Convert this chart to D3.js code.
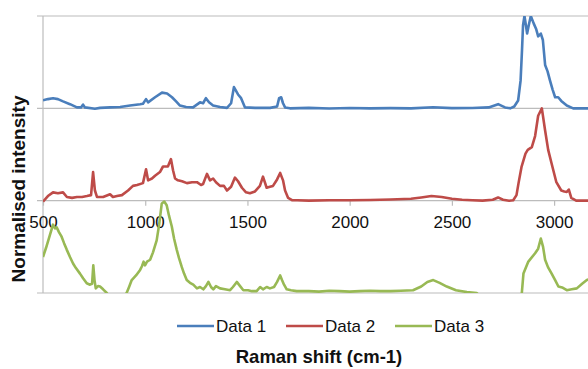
<!DOCTYPE html>
<html>
<head>
<meta charset="utf-8">
<script src="https://cdn.jsdelivr.net/npm/d3@7"></script>
<style>
  body { margin: 0; background: #fff; }
  svg { display: block; font-family: "Liberation Sans", Arial, sans-serif; }
</style>
</head>
<body>
<div id="chart"></div>
<script>
// Raman spectra, [shift cm-1, normalised intensity]
const data1 = [
  [500, 0.087], [524, 0.10], [549, 0.11], [573, 0.10], [598, 0.075], [632, 0.045], [666, 0.01],
  [686, 0.01], [696, 0.04], [705, 0.01], [754, -0.005], [779, 0.005], [828, 0.01], [877, 0.015],
  [926, 0.03], [975, 0.045], [989, 0.05], [1004, 0.10], [1014, 0.065], [1048, 0.12], [1082, 0.17],
  [1107, 0.16], [1131, 0.12], [1151, 0.075], [1170, 0.03], [1200, 0.015], [1234, 0.01], [1268, 0.065],
  [1283, 0.055], [1297, 0.11], [1312, 0.065], [1332, 0.03], [1366, 0.015], [1400, 0.005], [1420, 0.055],
  [1434, 0.23], [1454, 0.15], [1469, 0.11], [1488, 0.01], [1537, 0.005], [1611, 0.005], [1645, 0.02],
  [1655, 0.11], [1665, 0.12], [1674, 0.055], [1684, 0.01], [1708, 0], [1800, 0.005], [1900, -0.002],
  [2000, 0.003], [2100, 0.0], [2200, 0.002], [2300, 0.0], [2408, 0.012], [2500, 0.002], [2600, 0.004],
  [2680, 0.01], [2726, 0.045], [2760, 0.01], [2785, 0.0], [2805, 0.02], [2824, 0.085], [2836, 0.3],
  [2843, 0.63], [2848, 0.9], [2855, 1.0], [2862, 0.9], [2868, 0.81], [2876, 0.9], [2886, 1.0],
  [2900, 0.92], [2912, 0.86], [2922, 0.78], [2935, 0.81], [2945, 0.74], [2956, 0.47], [2968, 0.4],
  [2980, 0.3], [2993, 0.2], [3005, 0.12], [3020, 0.12], [3035, 0.08], [3062, 0.03], [3093, 0.0],
  [3150, 0.0], [3200, 0.0]
];
const data2 = [
  [500, -0.01], [524, 0.05], [549, 0.09], [573, 0.08], [598, 0.09], [617, 0.04], [642, 0.03],
  [666, 0.04], [691, 0.04], [715, 0.05], [735, 0.06], [745, 0.31], [754, 0.11], [764, 0.04],
  [794, 0.04], [828, 0.07], [842, 0.04], [862, 0.05], [886, 0.06], [916, 0.11], [940, 0.16],
  [960, 0.17], [989, 0.19], [1004, 0.34], [1014, 0.22], [1033, 0.24], [1048, 0.27], [1072, 0.31],
  [1087, 0.37], [1111, 0.37], [1126, 0.45], [1136, 0.33], [1146, 0.24], [1160, 0.22], [1180, 0.21],
  [1204, 0.19], [1229, 0.20], [1253, 0.20], [1273, 0.17], [1283, 0.18], [1302, 0.29], [1317, 0.22],
  [1332, 0.24], [1346, 0.20], [1366, 0.16], [1385, 0.16], [1400, 0.11], [1420, 0.15], [1439, 0.25],
  [1454, 0.21], [1473, 0.14], [1493, 0.09], [1512, 0.08], [1537, 0.10], [1561, 0.16], [1576, 0.26],
  [1594, 0.14], [1610, 0.15], [1625, 0.16], [1645, 0.23], [1660, 0.30], [1674, 0.22], [1684, 0.11],
  [1699, 0.03], [1718, 0.005], [1743, 0.005], [1800, 0.0], [1900, 0.005], [2000, 0.004], [2100, 0.008],
  [2200, 0.012], [2300, 0.02], [2350, 0.035], [2400, 0.05], [2450, 0.04], [2500, 0.02], [2550, 0.01],
  [2600, 0.005], [2650, 0.0], [2700, 0.01], [2726, 0.035], [2750, 0.01], [2780, 0.0], [2800, 0.005],
  [2816, 0.06], [2826, 0.19], [2841, 0.37], [2860, 0.51], [2871, 0.55], [2891, 0.58], [2907, 0.7],
  [2922, 0.92], [2940, 1.0], [2956, 0.76], [2971, 0.55], [2988, 0.4], [3011, 0.2], [3035, 0.11],
  [3050, 0.10], [3062, 0.095], [3072, 0.12], [3084, 0.03], [3108, 0.0], [3150, 0.0], [3200, 0.0]
];
const data3 = [
  [500, 0.39], [515, 0.49], [534, 0.63], [549, 0.74], [559, 0.70], [567, 0.71], [578, 0.66],
  [591, 0.61], [603, 0.54], [616, 0.47], [632, 0.39], [647, 0.32], [661, 0.27], [681, 0.21],
  [696, 0.16], [714, 0.105], [730, 0.09], [740, 0.10], [746, 0.30], [752, 0.14], [758, 0.05],
  [769, 0.075], [779, 0.07], [794, 0.04], [812, 0.0], [818, -0.02], [850, -0.05], [900, -0.05],
  [905, -0.01], [909, 0.0], [921, 0.065], [934, 0.14], [955, 0.19], [975, 0.25], [984, 0.29],
  [992, 0.34], [999, 0.30], [1009, 0.34], [1024, 0.36], [1038, 0.44], [1056, 0.57], [1068, 0.74],
  [1081, 0.97], [1093, 0.99], [1105, 0.95], [1116, 0.84], [1130, 0.72], [1141, 0.59], [1154, 0.47],
  [1165, 0.38], [1179, 0.28], [1190, 0.21], [1203, 0.14], [1219, 0.11], [1235, 0.09], [1253, 0.05],
  [1268, 0.065], [1284, 0.04], [1297, 0.075], [1309, 0.12], [1322, 0.065], [1333, 0.04], [1346, 0.075],
  [1366, 0.05], [1390, 0.04], [1415, 0.03], [1429, 0.065], [1448, 0.12], [1464, 0.075], [1480, 0.03],
  [1503, 0.03], [1522, 0.02], [1545, 0.02], [1562, 0.065], [1576, 0.04], [1594, 0.065], [1610, 0.05],
  [1630, 0.065], [1645, 0.12], [1660, 0.19], [1669, 0.14], [1679, 0.09], [1692, 0.04], [1713, 0.03],
  [1741, 0.02], [1800, 0.02], [1850, 0.015], [1900, 0.025], [1950, 0.02], [2000, 0.015], [2050, 0.02],
  [2100, 0.025], [2150, 0.02], [2200, 0.02], [2250, 0.025], [2310, 0.03], [2350, 0.07], [2380, 0.12],
  [2409, 0.14], [2440, 0.11], [2475, 0.07], [2520, 0.03], [2573, 0.01], [2622, 0.0], [2640, -0.05],
  [2830, -0.05], [2842, 0.0], [2850, 0.21], [2874, 0.34], [2907, 0.43], [2922, 0.48], [2935, 0.59],
  [2946, 0.5], [2956, 0.36], [2970, 0.28], [2988, 0.21], [3005, 0.14], [3021, 0.07], [3039, 0.06],
  [3062, 0.03], [3086, 0.04], [3111, 0.05], [3137, 0.1], [3160, 0.14], [3186, 0.16], [3200, 0.17]
];
const seriesNames = ['Data 1', 'Data 2', 'Data 3'];
const seriesOffsets = [1, 0, -1];
const xTicks = [500, 1000, 1500, 2000, 2500, 3000];
const yGrid = [-1, 0, 1, 2];

const W = 588, H = 369;
const colors = ['#4a7ebb', '#be4b48', '#98b954'];

const svg = d3.select('#chart').append('svg')
  .attr('width', W).attr('height', H);

const x = d3.scaleLinear().domain([500, 3200]).range([43, 595]);
const y = d3.scaleLinear().domain([-1, 2]).range([293, 16]);

// gridlines
svg.append('g').selectAll('line')
  .data(yGrid).enter().append('line')
  .attr('x1', 37).attr('x2', W)
  .attr('y1', d => y(d)).attr('y2', d => y(d))
  .attr('stroke', '#bcbcbc').attr('stroke-width', 1.2);

// y axis line
svg.append('line')
  .attr('x1', 43).attr('x2', 43)
  .attr('y1', y(2)).attr('y2', y(-1))
  .attr('stroke', '#bcbcbc').attr('stroke-width', 1.2);

// x axis at 0
const xAxis = svg.append('g')
  .attr('transform', 'translate(0,' + y(0) + ')')
  .call(d3.axisBottom(x).tickValues(xTicks).tickFormat(d3.format('d'))
    .tickSize(5).tickSizeOuter(0).tickPadding(10));
xAxis.select('.domain').remove();
xAxis.selectAll('line').attr('stroke', '#bcbcbc').attr('stroke-width', 1.2);
xAxis.selectAll('text')
  .attr('fill', '#111')
  .attr('font-size', 17)
  .attr('font-family', '"Liberation Sans", Arial, sans-serif');

// series
svg.append('clipPath').attr('id', 'plot')
  .append('rect').attr('x', 43).attr('y', y(2)).attr('width', W - 43).attr('height', y(-1) - y(2));

const line = d3.line().x(d => x(d[0])).y(d => y(d[1]));
const allData = [data1, data2, data3];
svg.append('g').attr('clip-path', 'url(#plot)')
  .selectAll('path')
  .data(allData).enter().append('path')
  .attr('d', (d, i) => line(d.map(p => [p[0], p[1] + seriesOffsets[i]])))
  .attr('fill', 'none')
  .attr('stroke', (d, i) => colors[i])
  .attr('stroke-width', 2.6)
  .attr('stroke-linejoin', 'round');

// legend
const legendX = [177, 286, 395];
const legend = svg.append('g').selectAll('g')
  .data(seriesNames).enter().append('g')
  .attr('transform', (d, i) => 'translate(' + legendX[i] + ',326)');
legend.append('line')
  .attr('x1', 0).attr('x2', 37)
  .attr('stroke', (d, i) => colors[i]).attr('stroke-width', 2.6);
legend.append('text')
  .attr('x', 39).attr('y', 6)
  .attr('font-size', 17).attr('fill', '#111')
  .text(d => d);

// axis titles
svg.append('text')
  .attr('x', 319).attr('y', 363)
  .attr('text-anchor', 'middle')
  .attr('font-size', 18.5).attr('font-weight', 'bold').attr('fill', '#111')
  .text('Raman shift (cm-1)');

svg.append('text')
  .attr('transform', 'translate(25,189) rotate(-90)')
  .attr('text-anchor', 'middle')
  .attr('font-size', 19).attr('font-weight', 'bold').attr('fill', '#111')
  .text('Normalised intensity');
</script>
</body>
</html>
